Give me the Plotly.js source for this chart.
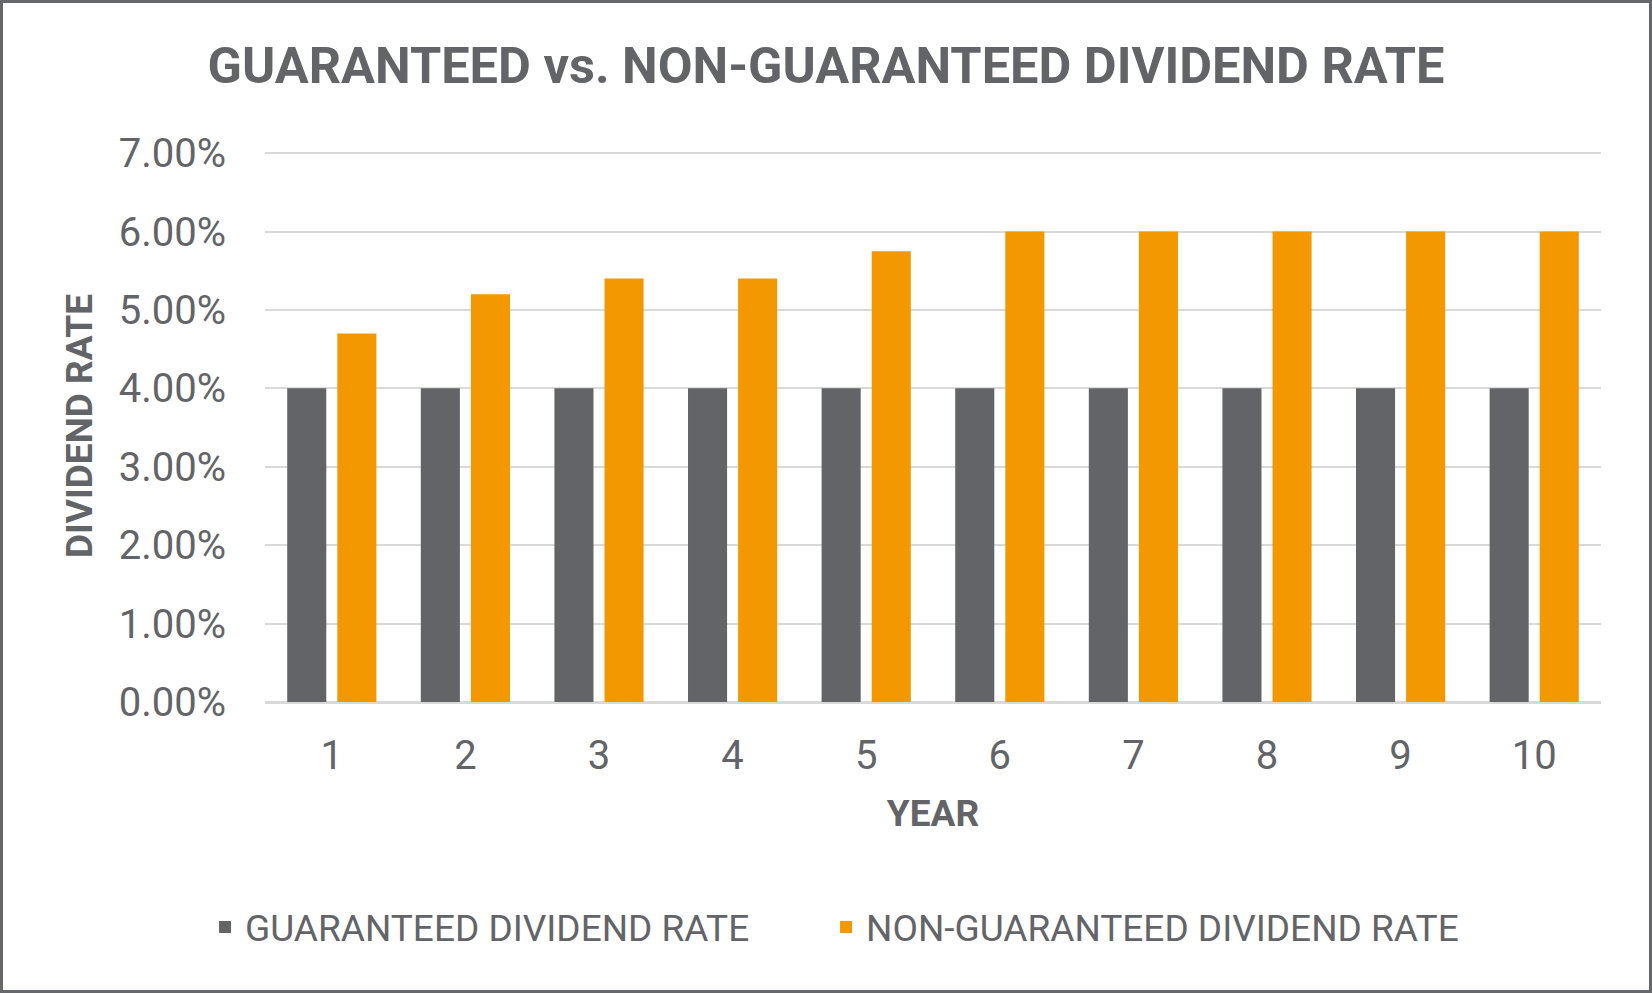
<!DOCTYPE html>
<html>
<head>
<meta charset="utf-8">
<script src="https://cdn.plot.ly/plotly-3.0.1.min.js"></script>
<style>
  html, body { margin: 0; padding: 0; background: #ffffff; }
  #wrap { position: relative; width: 1652px; height: 993px; }
  #chart { width: 1652px; height: 993px; }
  #frame { position: absolute; left: 0; top: 0; width: 1652px; height: 993px;
           box-sizing: border-box; border: 3px solid #66676b; pointer-events: none; }
</style>
</head>
<body>
<div id="wrap">
  <div id="chart"></div>
  <div id="frame"></div>
</div>
<script>
// chart values
let years = ['1', '2', '3', '4', '5', '6', '7', '8', '9', '10'];
let guaranteed = [0.04, 0.04, 0.04, 0.04, 0.04, 0.04, 0.04, 0.04, 0.04, 0.04];
let nonGuaranteed = [0.047, 0.052, 0.054, 0.054, 0.0575, 0.06, 0.06, 0.06, 0.06, 0.06];

let grey = '#636468';
let orange = '#f39800';
let textGrey = '#636468';

var data = [
  {
    type: 'bar',
    x: years,
    y: guaranteed,
    name: 'GUARANTEED DIVIDEND RATE',
    marker: {color: grey},
    legendwidth: 576,
    hoverinfo: 'skip'
  },
  {
    type: 'bar',
    x: years,
    y: nonGuaranteed,
    name: 'NON-GUARANTEED DIVIDEND RATE',
    marker: {color: orange},
    legendwidth: 640,
    hoverinfo: 'skip'
  }
];

var layout = {
  width: 1652,
  height: 993,
  paper_bgcolor: '#ffffff',
  plot_bgcolor: '#ffffff',
  font: {family: 'Roboto, sans-serif', color: textGrey},
  margin: {l: 265, r: 51, t: 150, b: 291, pad: 0},
  title: {
    text: '<b>GUARANTEED vs. NON-GUARANTEED DIVIDEND RATE</b>',
    font: {size: 50.5, color: textGrey, family: 'Roboto, sans-serif'},
    x: 0.5, xref: 'container', xanchor: 'center',
    y: 0.934, yref: 'container', yanchor: 'middle'
  },
  barmode: 'group',
  bargap: 0.25,
  bargroupgap: 0.22,
  xaxis: {
    type: 'category',
    showline: false,
    showgrid: false,
    ticks: '',
    tickfont: {size: 40, color: textGrey},
    ticklabelstandoff: 26,
    title: {
      text: '<b>YEAR</b>',
      font: {size: 37, color: textGrey},
      standoff: 22
    },
    automargin: false
  },
  yaxis: {
    // a hair above 7% so the top gridline is drawn
    range: [0, 0.0704],
    tickvals: [0, 0.01, 0.02, 0.03, 0.04, 0.05, 0.06, 0.07],
    tickformat: '.2%',
    showgrid: true,
    gridcolor: '#d9d9d9',
    gridwidth: 2,
    zeroline: true,
    zerolinecolor: '#d9d9d9',
    zerolinewidth: 3,
    showline: false,
    ticks: '',
    tickfont: {size: 40, color: textGrey},
    ticklabelstandoff: 38,
    title: {
      text: '<b>DIVIDEND RATE</b>',
      font: {size: 37, color: textGrey},
      standoff: 14
    },
    automargin: false
  },
  showlegend: true,
  legend: {
    orientation: 'h',
    xref: 'container', yref: 'container',
    x: 0.5194, xanchor: 'center',
    y: 0.066, yanchor: 'middle',
    font: {size: 37, color: textGrey},
    entrywidthmode: 'pixels',
    traceorder: 'normal',
    bgcolor: 'rgba(0,0,0,0)'
  }
};

Plotly.newPlot('chart', data, layout, {staticPlot: true, displayModeBar: false});
</script>
</body>
</html>
